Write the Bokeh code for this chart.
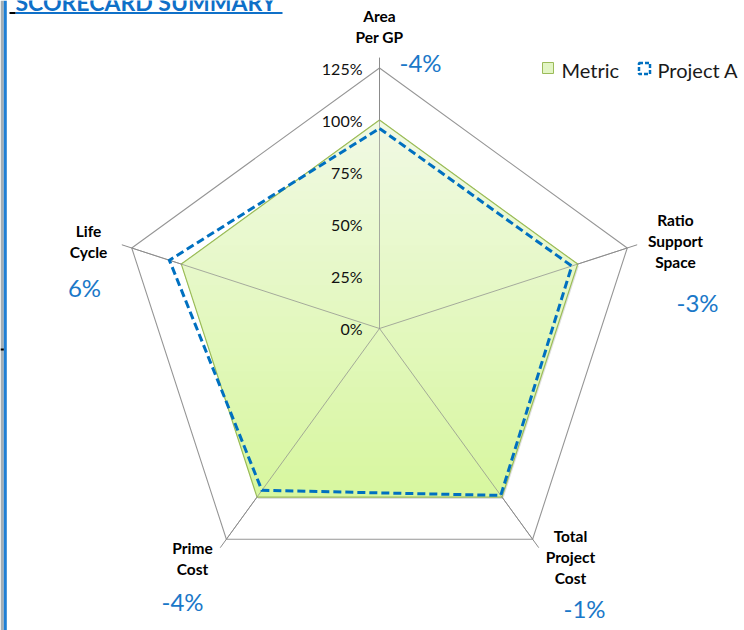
import numpy as np
from bokeh.plotting import figure
from bokeh.models import Range1d
from bokeh.core.properties import value
from bokeh.embed import file_html
from bokeh.resources import INLINE

# ---------------- data ----------------
title = "SCORECARD SUMMARY"
categories = ["Area\nPer GP", "Ratio\nSupport\nSpace", "Total\nProject\nCost", "Prime\nCost", "Life\nCycle"]
metric = [100, 100, 100, 100, 100]
project_a = [96, 97, 99, 96, 106]
diff_labels = ["-4%", "-3%", "-1%", "-4%", "6%"]
radial_ticks = [0, 25, 50, 75, 100, 125]
radial_tick_labels = ["0%", "25%", "50%", "75%", "100%", "125%"]
legend_labels = ["Metric", "Project A"]

# ---------------- layout ----------------
W, H = 744, 630
CX, CY = 379.0, 328.0          # pixel position of the radar centre
S = 208.4 / 100.0              # pixels per percent
RMAX = 125
SPOKE_EXT = 130
FONT = "Lato"
BLUE = "#0070c0"
LBL_BLUE = "#1a78c8"

def D(px, py):
    return ((px - CX) / S, (CY - py) / S)

cat_label_pos = [(379, 15), (675, 219), (570, 535), (192, 547), (88, 230)]
diff_label_pos = [(420, 62), (697, 302), (584, 608), (182, 601), (84, 287)]
LINE_SP = 21.0

p = figure(width=W, height=H, output_backend="svg", toolbar_location=None,
           x_range=Range1d(-CX / S, (W - CX) / S), y_range=Range1d(-(H - CY) / S, CY / S),
           x_axis_location=None, y_axis_location=None, min_border=0)
p.xgrid.visible = False
p.ygrid.visible = False
p.outline_line_color = None
p.background_fill_color = "white"
p.border_fill_color = "white"

n = len(categories)
ang = np.deg2rad(90 - 72 * np.arange(n))

def poly(vals):
    v = np.asarray(vals, dtype=float)
    return v * np.cos(ang), v * np.sin(ang)

# outer grid ring (125%)
gx, gy = poly([RMAX] * n)
p.line(list(gx) + [gx[0]], list(gy) + [gy[0]], line_color="#969696", line_width=1.1)
# spokes
for a in ang:
    p.line([0, SPOKE_EXT * np.cos(a)], [0, SPOKE_EXT * np.sin(a)], line_color="#8c8c8c", line_width=1)

# metric polygon with vertical gradient
mx, my = poly(metric)
pts = list(zip(mx, my))

def clip_above(points, y0):
    out = []
    m = len(points)
    for i in range(m):
        x1, y1 = points[i]
        x2, y2 = points[(i + 1) % m]
        in1, in2 = y1 >= y0, y2 >= y0
        if in1:
            out.append((x1, y1))
        if in1 != in2:
            t = (y0 - y1) / (y2 - y1)
            out.append((x1 + t * (x2 - x1), y0))
    return out

# soft shadow
p.patch(mx + 1.2 / S, my - 1.8 / S, fill_color="#7f7f7f", fill_alpha=0.25, line_color=None)

c_bot = np.array([0xd8, 0xf7, 0xa0])
c_top = np.array([0xf1, 0xfa, 0xe4])
ymin, ymax = min(my), max(my)
NB = 48
for k in range(NB):
    y0 = ymin + (ymax - ymin) * k / NB
    t = k / (NB - 1)
    c = (c_bot * (1 - t) + c_top * t).astype(int)
    col = "#%02x%02x%02x" % tuple(c)
    cp = clip_above(pts, y0) if k > 0 else pts
    if len(cp) >= 3:
        p.patch([q[0] for q in cp], [q[1] for q in cp], fill_color=col, line_color=None)
p.line(list(mx) + [mx[0]], list(my) + [my[0]], line_color="#9bbb59", line_width=1.2)

# spokes over fill
for a in ang:
    p.line([0, RMAX * np.cos(a)], [0, RMAX * np.sin(a)], line_color="#8c8c8c", line_width=0.9, line_alpha=0.8)

# project A dashed line
ax_, ay_ = poly(project_a)
p.line(list(ax_) + [ax_[0]], list(ay_) + [ay_[0]], line_color=BLUE, line_width=3,
       line_dash="8 4", line_join="miter")

# radial tick labels
p.text(x=[D(362, 0)[0]] * len(radial_ticks), y=radial_ticks, text=radial_tick_labels,
       text_font=value(FONT), text_font_size="16px", text_align="right",
       text_baseline="middle", text_color="#111111")

# category labels
xs, ys, ts = [], [], []
for lab, (px, py) in zip(categories, cat_label_pos):
    for j, line in enumerate(lab.split("\n")):
        x, y = D(px, py + j * LINE_SP)
        xs.append(x); ys.append(y); ts.append(line)
p.text(x=xs, y=ys, text=ts, text_font=value(FONT), text_font_style="bold",
       text_font_size="15.5px", text_align="center", text_baseline="middle", text_color="#000000")

# difference labels
dx = [D(px, py)[0] for px, py in diff_label_pos]
dy = [D(px, py)[1] for px, py in diff_label_pos]
p.text(x=dx, y=dy, text=diff_labels, text_font=value(FONT), text_font_size="24px",
       text_align="center", text_baseline="middle", text_color=LBL_BLUE)

# legend
lx, ly = D(547.5, 67.5)
p.rect(x=[lx], y=[ly], width=11, height=11, width_units="screen", height_units="screen",
       fill_color="#e2f5c4", line_color="#9bbb59", line_width=1)
tx, ty = D(561, 69)
p.text(x=[tx], y=[ty], text=[legend_labels[0]], text_font=value(FONT), text_font_size="20px",
       text_align="left", text_baseline="middle", text_color="#1a1a1a")
bx, by = D(644, 68)
p.rect(x=[bx], y=[by], width=11, height=11, width_units="screen", height_units="screen",
       fill_color=None, line_color=BLUE, line_width=2.5, line_dash="4 2")
tx2, ty2 = D(657, 69)
p.text(x=[tx2], y=[ty2], text=[legend_labels[1]], text_font=value(FONT), text_font_size="20px",
       text_align="left", text_baseline="middle", text_color="#1a1a1a")

# title (cut off at top, as in the reference) with underline
ttx, tty = D(15, 1)
p.text(x=[ttx], y=[tty], text=[title], text_font=value(FONT), text_font_style="bold",
       text_font_size="23px", text_align="left", text_baseline="middle", text_color="#0f70c8")
u0 = D(15, 12.5); u1 = D(282, 12.5)
p.line([u0[0], u1[0]], [u0[1], u1[1]], line_color="#0f70c8", line_width=2)
k0 = D(9, 12.5)
p.line([k0[0], u0[0]], [k0[1], u0[1]], line_color="#000000", line_width=2)

# left border
top = D(0, 0)[1]; bot = D(0, H)[1]
p.quad(left=[D(0, 0)[0]], right=[D(3.3, 0)[0]], top=[top], bottom=[bot], fill_color="#a3aeb4", line_color=None)
p.quad(left=[D(3.3, 0)[0]], right=[D(6.3, 0)[0]], top=[top], bottom=[bot], fill_color="#1f7fd4", line_color=None)
t0 = D(0, 349); t1 = D(3.3, 349)
p.line([t0[0], t1[0]], [t0[1], t1[1]], line_color="#000000", line_width=2)

open("out.html", "w").write(file_html(p, INLINE))
